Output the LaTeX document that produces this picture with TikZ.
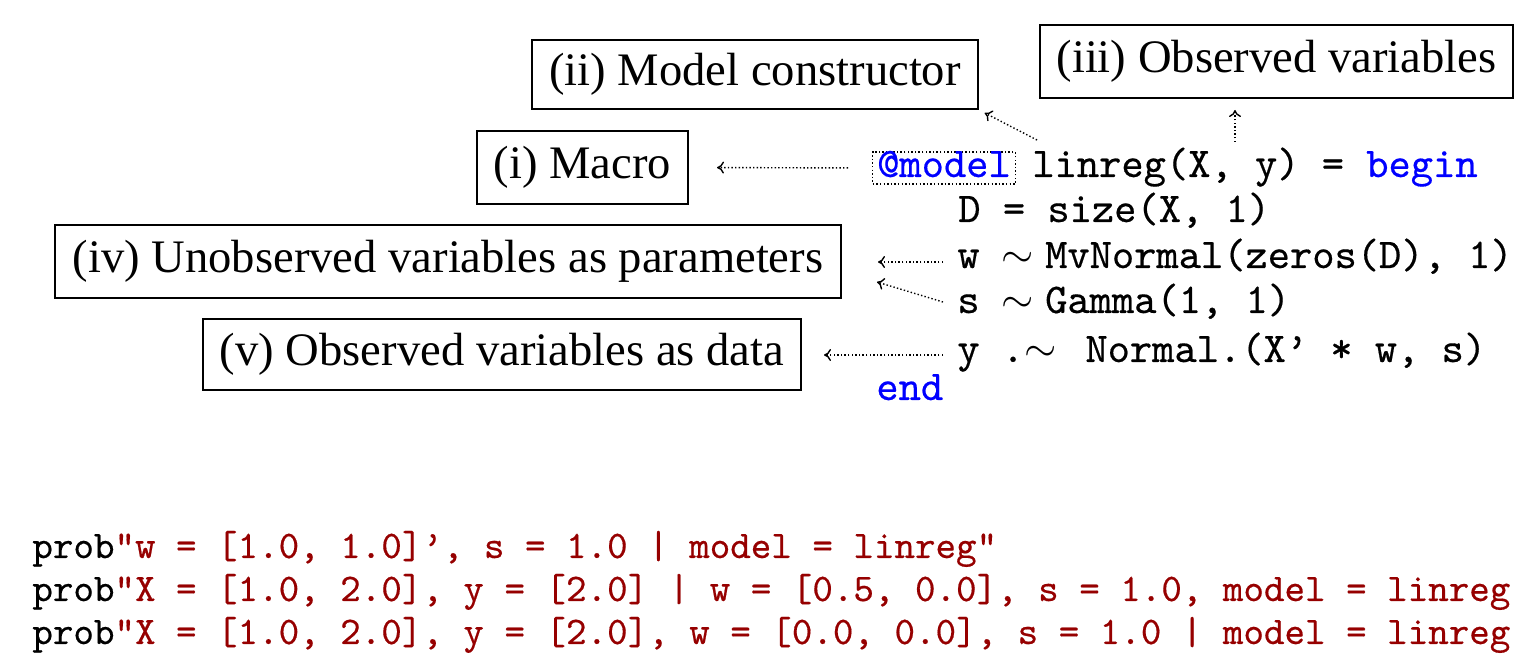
\documentclass[tikz,border=0pt]{standalone}
\usepackage{fontspec}
\newfontfamily\boxfont{Liberation Serif}
\newfontfamily\codefont[FakeBold=0.4]{lmmono10-regular.otf}
\usetikzlibrary{arrows.meta}
\definecolor{kwblue}{RGB}{0,0,255}
\definecolor{strred}{RGB}{150,0,0}
\begin{document}
\begin{tikzpicture}[x=0.5pt,y=-0.5pt,
  lbl/.style={draw, line width=1pt, inner sep=0pt, font=\boxfont\fontsize{23.3}{28}\selectfont},
  code/.style={anchor=base west, inner sep=0pt, font=\codefont\fontsize{21.2}{25}\selectfont},
  query/.style={anchor=base west, inner sep=0pt, font=\codefont\fontsize{19.55}{23}\selectfont, text=strred},
  dots/.style={line width=0.7pt, dash pattern=on 0.7pt off 1.1pt},
  ptr/.style={dots, -{To[length=3.5pt,width=6pt]}},
]
\useasboundingbox (0,0) rectangle (1517,657);

% label boxes
\node[lbl, minimum width=223pt, minimum height=34.5pt] (ii) at (755,74.5) {(ii) Model constructor};
\node[lbl, minimum width=236.5pt, minimum height=36.5pt] (iii) at (1276.5,61.5) {(iii) Observed variables};
\node[lbl, minimum width=105.5pt, minimum height=36.5pt] (i) at (582.5,167.5) {(i) Macro};
\node[lbl, minimum width=393pt, minimum height=36.5pt] (iv) at (448,261.5) {(iv) Unobserved variables as parameters};
\node[lbl, minimum width=299pt, minimum height=35.5pt] (v) at (502,354.5) {(v) Observed variables as data};

% code
\node[code, text=kwblue, draw=black, dots, inner xsep=2.25pt, text height=12.5pt, text depth=3.5pt] (at) at (872,177) {@model};
\node[code] (l1) at (1032,177) {linreg(X, y) = \textcolor{kwblue}{begin}};
\node[code] (l2) at (958,222) {D = size(X, 1)};
\node[code] (l3) at (957,268) {w $\sim$\hspace{5.5pt}MvNormal(zeros(D), 1)};
\node[code] (l4) at (957,313) {s $\sim$\hspace{5.5pt}Gamma(1, 1)};
\node[code] (l5) at (957,362) {y .$\sim$\hspace{14.5pt}Normal.(X’ * w, s)};
\node[code, text=kwblue] (l6) at (876,400) {end};

% queries
\node[query] (q1) at (32,558) {\textcolor{black}{prob}"w = [1.0, 1.0]’, s = 1.0 | model = linreg"};
\node[query] (q2) at (32,601) {\textcolor{black}{prob}"X = [1.0, 2.0], y = [2.0] | w = [0.5, 0.0], s = 1.0, model = linreg};
\node[query] (q3) at (32,644) {\textcolor{black}{prob}"X = [1.0, 2.0], y = [2.0], w = [0.0, 0.0], s = 1.0 | model = linreg};

% connectors
\coordinate (c2) at (1037,140);
\coordinate (c3) at (1235,142);
\coordinate (c4) at (943,262);
\coordinate (c5) at (943,302);
\coordinate (c5t) at (877,282);
\coordinate (c6) at (943,355);
\draw[ptr, shorten <=12pt, shorten >=14pt] (at.west) -- (i.east);
\draw[ptr, shorten >=3.2pt] (c2) -- (ii.south east);
\draw[ptr, shorten >=5.5pt] (c3) -- (c3 |- iii.south);
\draw[ptr, shorten >=18pt] (c4) -- (c4 -| iv.east);
\draw[ptr] (c5) -- (c5t);
\draw[ptr, shorten >=11pt] (c6) -- (c6 -| v.east);
\end{tikzpicture}
\end{document}
